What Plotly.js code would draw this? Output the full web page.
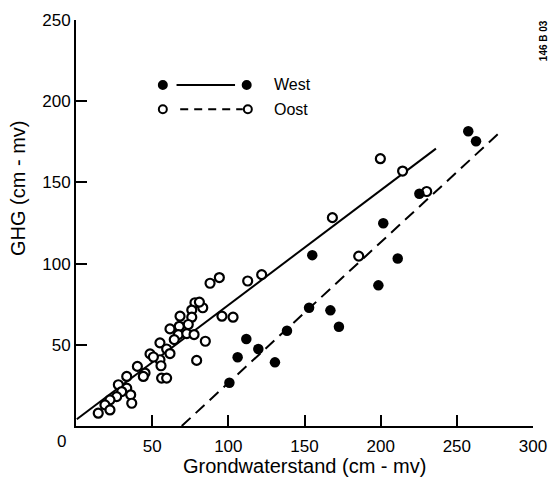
<!DOCTYPE html>
<html>
<head>
<meta charset="utf-8">
<script src="https://cdn.plot.ly/plotly-3.0.1.min.js"></script>
<style>html,body{margin:0;padding:0;background:#fff;}#chart{width:552px;height:477px;}</style>
</head>
<body>
<div id="chart"></div>
<script>
// West (filled circles)
const westX = [257.5, 262.6, 225.4, 201.7, 211.2, 198.5, 155.1, 153, 167, 172.6, 138.5, 111.8, 119.7, 106.1, 130.6, 100.7];
const westY = [181.5, 175.3, 143, 124.8, 103.1, 86.6, 105.2, 72.8, 71.2, 61.1, 58.6, 53.6, 47.4, 42.3, 39.2, 26.6];
// Oost (open circles)
const oostX = [199.8, 214.4, 230.2, 168.3, 185.6, 94.1, 88, 112.7, 121.9, 95.8, 103.1, 83.2, 84.9, 79.2, 78.1, 81, 76, 68.3, 76, 61.7, 67.8, 73.7, 67.2, 72.7, 77.5, 64.5, 55.1, 59.5, 61.7, 55.1, 55.8, 56.2, 59.5, 48.6, 50.8, 40.3, 45.3, 44.2, 33.3, 27.8, 33.3, 30, 35.9, 36.6, 26.7, 22.3, 19, 22.3, 14.6];
const oostY = [164.6, 157, 144.4, 128.3, 104.6, 91.4, 87.9, 89.3, 93.2, 67.6, 67, 72.8, 52.2, 40.4, 75.9, 76.3, 71.4, 67.6, 67, 59.8, 61.4, 62.5, 56.3, 56.9, 56.3, 53.2, 51.2, 47.4, 44.6, 40.8, 37.1, 29.5, 29.5, 44.4, 42.5, 36.7, 32.6, 30.5, 30.5, 25.4, 23.3, 21.2, 19.2, 14, 18.1, 16.1, 13, 9.9, 7.9];
// Fitted lines as drawn
const solidLineX = [0.5, 236.3];
const solidLineY = [4.2, 170.8];
const dashedLineX = [69.4, 277.3];
const dashedLineY = [0, 180];
// Ticks
const xTicks = [50, 100, 150, 200, 250, 300];
const yTicks = [50, 100, 150, 200, 250];
const legendNames = ["West", "Oost"];

const FONT = "Liberation Sans, Arial, Helvetica, sans-serif";

const traces = [
  {x: solidLineX, y: solidLineY, mode: 'lines', line: {color: '#000', width: 2}, hoverinfo: 'skip'},
  {x: dashedLineX, y: dashedLineY, mode: 'lines', line: {color: '#000', width: 2, dash: '12px,7px'}, hoverinfo: 'skip'},
  {x: oostX, y: oostY, mode: 'markers', name: legendNames[1],
   marker: {symbol: 'circle', size: 9, color: '#fff', line: {color: '#000', width: 2.2}}},
  {x: westX, y: westY, mode: 'markers', name: legendNames[0],
   marker: {symbol: 'circle', size: 10.5, color: '#000', line: {color: '#000', width: 0}}}
];

function dot(px, py, filled) {
  return {type: 'circle', xref: 'paper', yref: 'paper', xsizemode: 'pixel', ysizemode: 'pixel',
    xanchor: px, yanchor: py, x0: filled ? -5 : -4, x1: filled ? 5 : 4, y0: filled ? -5 : -4, y1: filled ? 5 : 4,
    fillcolor: filled ? '#000' : '#fff', line: {color: '#000', width: filled ? 0 : 2}};
}

const layout = {
  width: 552, height: 477,
  margin: {l: 76, r: 19, t: 20, b: 51, pad: 0},
  paper_bgcolor: '#fff', plot_bgcolor: '#fff',
  showlegend: false,
  font: {family: FONT, color: '#000', size: 17},
  xaxis: {range: [0, 300], tickvals: xTicks, ticks: 'inside', ticklen: 11, tickwidth: 2, tickcolor: '#000',
    showline: true, linewidth: 2, linecolor: '#000', showgrid: false, zeroline: false,
    ticklabelstandoff: 4,
    tickfont: {size: 17, family: FONT}, fixedrange: true},
  yaxis: {range: [0, 250], tickvals: yTicks, ticks: 'inside', ticklen: 11, tickwidth: 2, tickcolor: '#000',
    showline: true, linewidth: 2, linecolor: '#000', showgrid: false, zeroline: false,
    tickfont: {size: 17, family: FONT}, fixedrange: true},
  shapes: [
    {type: 'line', xref: 'paper', yref: 'paper', x0: 0.220, x1: 0.348, y0: 0.84, y1: 0.84, line: {color: '#000', width: 2}},
    {type: 'line', xref: 'paper', yref: 'paper', x0: 0.228, x1: 0.365, y0: 0.78, y1: 0.78, line: {color: '#000', width: 2, dash: '8px,6px'}},
    dot(0.19, 0.84, true), dot(0.3735, 0.84, true),
    dot(0.19, 0.78, false), dot(0.376, 0.78, false)
  ],
  annotations: [
    {text: legendNames[0], xref: 'paper', yref: 'paper', x: 0.428, y: 0.84, xanchor: 'left', yanchor: 'middle', showarrow: false, font: {size: 16}},
    {text: legendNames[1], xref: 'paper', yref: 'paper', x: 0.428, y: 0.78, xanchor: 'left', yanchor: 'middle', showarrow: false, font: {size: 16}},
    {text: '0', xref: 'paper', yref: 'paper', x: -0.031, y: -0.039, xanchor: 'center', yanchor: 'middle', showarrow: false, font: {size: 17}},
    {text: 'Grondwaterstand (cm - mv)', xref: 'paper', yref: 'paper', x: 0.501, y: -0.0985, xanchor: 'center', yanchor: 'middle', showarrow: false, font: {size: 20}},
    {text: 'GHG (cm - mv)', xref: 'paper', yref: 'paper', x: -0.127, y: 0.586, xanchor: 'center', yanchor: 'middle', textangle: -90, showarrow: false, font: {size: 20}},
    {text: '<b>146 B 03</b>', xref: 'paper', yref: 'paper', x: 1.022, y: 0.948, xanchor: 'center', yanchor: 'middle', textangle: -90, showarrow: false, font: {size: 10}}
  ]
};

Plotly.newPlot('chart', traces, layout, {displayModeBar: false, staticPlot: true});
</script>
</body>
</html>
